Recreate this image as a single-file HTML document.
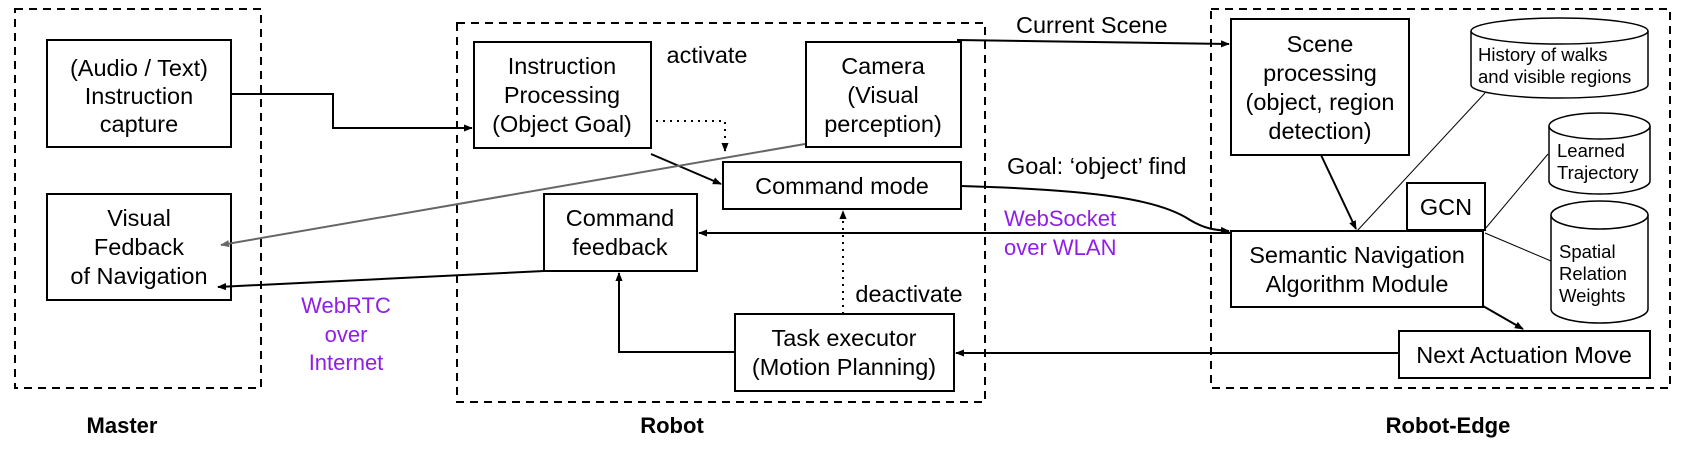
<!DOCTYPE html>
<html><head><meta charset="utf-8"><style>
html,body{margin:0;padding:0;background:#fff;}
svg{display:block;font-family:"Liberation Sans",Arial,sans-serif;}
</style></head><body>
<svg width="1683" height="450" viewBox="0 0 1683 450" xmlns="http://www.w3.org/2000/svg">
<defs>
<marker id="a" viewBox="0 0 10 10" refX="9" refY="5" markerWidth="9" markerHeight="9" markerUnits="userSpaceOnUse" orient="auto"><path d="M0,1 L10,5 L0,9 z" fill="#000"/></marker>
<marker id="g" viewBox="0 0 10 10" refX="9" refY="5" markerWidth="9" markerHeight="9" markerUnits="userSpaceOnUse" orient="auto"><path d="M0,1 L10,5 L0,9 z" fill="#666"/></marker>
</defs>
<g fill="none" stroke="#000" stroke-width="2" stroke-dasharray="8,6">
<rect x="15" y="9" width="246" height="379"/>
<rect x="457" y="23" width="528" height="379"/>
<rect x="1211" y="9" width="459" height="379"/>
</g>
<g fill="#fff" stroke="#000" stroke-width="2">
<rect x="47" y="40" width="184" height="107"/>
<rect x="47" y="194" width="184" height="106"/>
<rect x="474" y="42" width="177" height="106"/>
<rect x="806" y="42" width="155" height="105"/>
<rect x="723" y="162" width="238" height="47"/>
<rect x="544" y="194" width="153" height="77"/>
<rect x="735" y="314" width="219" height="77"/>
<rect x="1231" y="19" width="178" height="136"/>
<rect x="1231" y="231" width="252" height="76"/>
<rect x="1407" y="183" width="78" height="47"/>
<rect x="1399" y="331" width="251" height="47"/>
</g>
<g fill="#fff" stroke="#000" stroke-width="1.5">
<path d="M1471,31 L1471,85 A88.5,13 0 0 0 1648,85 L1648,31"/>
<ellipse cx="1559.5" cy="31" rx="88.5" ry="13"/>
<path d="M1549,126 L1549,181 A50.5,13 0 0 0 1650,181 L1650,126"/>
<ellipse cx="1599.5" cy="126" rx="50.5" ry="13"/>
<path d="M1551,215 L1551,309 A48.5,14 0 0 0 1648,309 L1648,215"/>
<ellipse cx="1599.5" cy="215" rx="48.5" ry="14"/>
</g>
<g fill="none" stroke="#000" stroke-width="2">
<path d="M231,94 H333 V128 H472" marker-end="url(#a)"/>
<path d="M651,154 L721,184" marker-end="url(#a)"/>
<path d="M656,121 H725 V151" stroke-dasharray="2,5" marker-end="url(#a)"/>
<path d="M843,314 V211" stroke-dasharray="2,5" marker-end="url(#a)"/>
<path d="M544,271 L218,287" marker-end="url(#a)"/>
<path d="M735,352 H619 V273" marker-end="url(#a)"/>
<path d="M1231,233 H699" marker-end="url(#a)"/>
<path d="M1399,353 H956" marker-end="url(#a)"/>
<path d="M957,40 L1229,44" marker-end="url(#a)"/>
<path d="M961,186 C1100,190 1160,200 1190,220 C1205,229 1215,230 1229,231" marker-end="url(#a)"/>
<path d="M1321,155 L1356,229" marker-end="url(#a)"/>
<path d="M1483,306 L1523,329" marker-end="url(#a)"/>
</g>
<path d="M805,144 L221,245" stroke="#666" stroke-width="2" fill="none" marker-end="url(#g)"/>
<g stroke="#000" stroke-width="1" fill="none">
<path d="M1485,93 L1357,231"/>
<path d="M1548,154 L1485,229"/>
<path d="M1485,233 L1551,261"/>
</g>
<g font-size="23.5" fill="#000" text-anchor="middle">
<text x="139" y="76">(Audio / Text)</text><text x="139" y="104">Instruction</text><text x="139" y="132">capture</text>
<text x="139" y="226">Visual</text><text x="139" y="255">Fedback</text><text x="139" y="284">of Navigation</text>
<text x="562" y="74">Instruction</text><text x="562" y="103">Processing</text><text x="562" y="132">(Object Goal)</text>
<text x="883" y="74">Camera</text><text x="883" y="103">(Visual</text><text x="883" y="132">perception)</text>
<text x="842" y="194">Command mode</text>
<text x="620" y="226">Command</text><text x="620" y="255">feedback</text>
<text x="844" y="346">Task executor</text><text x="844" y="375">(Motion Planning)</text>
<text x="1320" y="52">Scene</text><text x="1320" y="81">processing</text><text x="1320" y="110">(object, region</text><text x="1320" y="139">detection)</text>
<text x="1357" y="263">Semantic Navigation</text><text x="1357" y="292">Algorithm Module</text>
<text x="1446" y="215">GCN</text>
<text x="1524" y="363">Next Actuation Move</text>
<text x="707" y="63">activate</text>
<text x="909" y="302">deactivate</text>
</g>
<g font-size="23.5" fill="#000">
<text x="1016" y="33">Current Scene</text>
<text x="1007" y="174">Goal: ‘object’ find</text>
</g>
<g font-size="18.5" fill="#000">
<text x="1478" y="61">History of walks</text><text x="1478" y="83">and visible regions</text>
<text x="1557" y="157">Learned</text><text x="1557" y="179">Trajectory</text>
<text x="1559" y="258">Spatial</text><text x="1559" y="280">Relation</text><text x="1559" y="302">Weights</text>
</g>
<g font-size="22" fill="#8f1ee6">
<text x="1004" y="226">WebSocket</text><text x="1004" y="255">over WLAN</text>
<g text-anchor="middle"><text x="346" y="313">WebRTC</text><text x="346" y="342">over</text><text x="346" y="370">Internet</text></g>
</g>
<g font-size="22" font-weight="bold" fill="#000" text-anchor="middle">
<text x="122" y="433">Master</text>
<text x="672" y="433">Robot</text>
<text x="1448" y="433">Robot-Edge</text>
</g>
</svg>
</body></html>
